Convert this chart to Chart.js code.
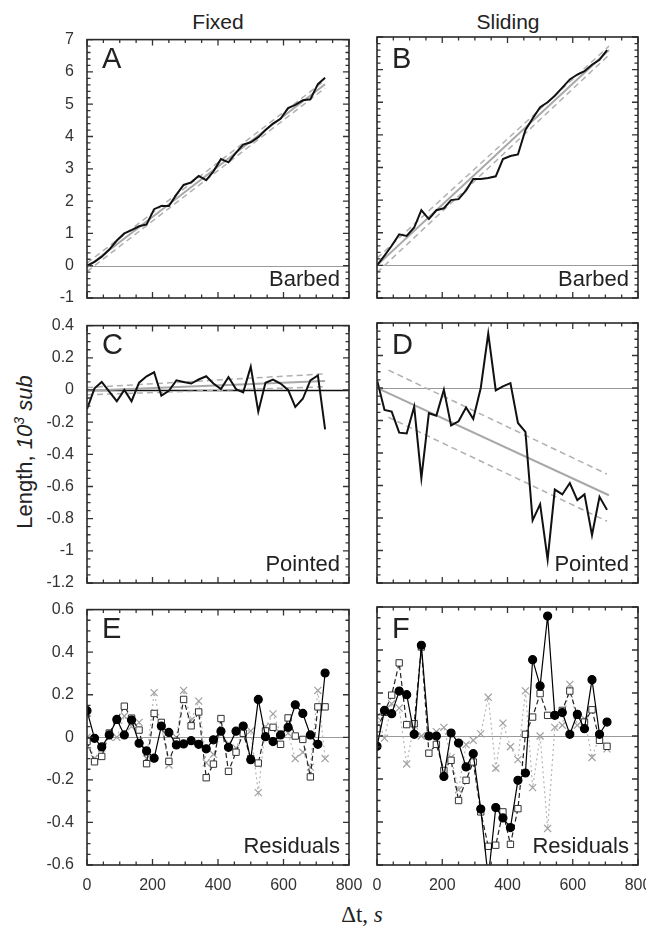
<!DOCTYPE html>
<html>
<head>
<meta charset="utf-8">
<script src="https://cdn.jsdelivr.net/npm/chart.js@4.4.0/dist/chart.umd.min.js"></script>
<style>
  body { margin: 0; background: #fff; font-family: Arial, "Liberation Sans", sans-serif; color: #222; }
  #page { position: relative; width: 646px; height: 927px; overflow: hidden; }
  canvas { position: absolute; }
  .t { position: absolute; line-height: 1; white-space: nowrap; }
  .c { transform: translate(-50%, -50%); }
  .letter { font-size: 29px; }
  .corner { font-size: 22px; text-align: right; }
</style>
</head>
<body>
<div id="page">
  <div class="t c" style="left:218px;top:21px;font-size:21px">Fixed</div>
  <div class="t c" style="left:508px;top:21px;font-size:21px">Sliding</div>
  <div class="t c" style="left:24px;top:452px;font-size:22px;transform:translate(-50%,-50%) rotate(-90deg)">Length, <i>10<sup style="font-size:14px">3</sup> sub</i></div>
  <div class="t c" style="left:362px;top:914px;font-size:23px;font-family:'Liberation Serif','DejaVu Serif',serif">Δt, <i>s</i></div>
</div>
<script>
// time points (s)
const tFixed = [0, 23, 45, 68, 91, 114, 136, 159, 182, 205, 227, 250, 273, 295, 318, 341, 364,
                386, 409, 432, 455, 477, 500, 523, 545, 568, 591, 614, 636, 659, 682, 705, 727];
const tSliding = [0, 23, 45, 68, 91, 114, 136, 159, 182, 205, 227, 250, 273, 295, 318, 341,
                  364, 386, 409, 432, 455, 477, 500, 523, 545, 568, 591, 614, 636, 659, 682, 705];

// A / B: barbed end length
const barbedFixed = [0, 0.12, 0.28, 0.5, 0.78, 1.0, 1.1, 1.22, 1.28, 1.75, 1.85, 1.85, 2.2, 2.5, 2.58, 2.78, 2.65,
                     2.92, 3.3, 3.2, 3.5, 3.75, 3.82, 3.98, 4.2, 4.4, 4.55, 4.88, 4.98, 5.12, 5.15, 5.62, 5.82];
const barbedSliding = [0, 0.3, 0.6, 0.95, 0.9, 1.16, 1.69, 1.42, 1.69, 1.75, 2.0, 2.03, 2.3, 2.65, 2.65, 2.68,
                       2.73, 3.26, 3.35, 3.4, 4.15, 4.5, 4.85, 5.0, 5.2, 5.45, 5.7, 5.85, 5.95, 6.15, 6.3, 6.6];

// C / D: pointed end length
const pointedFixed = [-0.12, 0.01, 0.05, -0.01, -0.07, 0.0, -0.07, 0.045, 0.085, 0.11, -0.035, -0.005, 0.06, 0.05,
                      0.04, 0.065, 0.085, 0.04, 0.005, 0.08, 0.005, -0.015, 0.145, -0.135, 0.045, 0.065, 0.04,
                      0.0, -0.105, -0.055, 0.06, 0.09, -0.245];
const pointedSliding = [0.05, -0.135, -0.145, -0.275, -0.28, -0.115, -0.555, -0.155, -0.17, -0.01, -0.23, -0.205,
                        -0.12, -0.19, 0.0, 0.335, -0.015, 0.01, 0.03, -0.215, -0.27, -0.815, -0.715, -1.055,
                        -0.625, -0.655, -0.585, -0.69, -0.655, -0.905, -0.67, -0.75];

// fits (start/end values) and their bands
const fitTFixed = [0, 727];
const fitTSliding = [0, 711];
const fitA = [-0.05, 5.62], fitAUp = [0.08, 5.74], fitALo = [-0.18, 5.5];
const fitB = [0.0, 6.6], fitBUp = [0.22, 6.72], fitBLo = [-0.22, 6.45];
const fitC = [-0.005, 0.055], fitCUp = [0.015, 0.1], fitCLo = [-0.03, 0.02];
const fitD = [0.0, -0.66];
const bandTD = [35, 705], fitDUp = [0.11, -0.53], fitDLo = [-0.18, -0.82];

// E / F: residuals
const resFixedDots = [0.125, -0.005, -0.045, 0.011, 0.084, 0.011, 0.081, -0.028, -0.064, -0.098, 0.053, 0.023,
                      -0.036, -0.031, -0.016, -0.033, -0.054, -0.012, 0.029, -0.047, 0.029, 0.053, -0.105, 0.178,
                      0.003, -0.02, 0.011, 0.047, 0.153, 0.112, 0.011, -0.033, 0.302];
const resFixedSquares = [-0.02, -0.115, -0.09, 0.02, 0.08, 0.146, 0.09, 0.034, -0.124, 0.112, 0.07, -0.113, -0.02,
                         0.178, 0.054, 0.119, -0.19, -0.126, 0.088, -0.16, -0.07, 0.019, -0.1, -0.121, 0.03,
                         0.047, -0.033, 0.091, 0.006, -0.01, -0.186, 0.143, 0.143];
const resFixedCrosses = [0.0, -0.1, -0.05, 0.0, 0.0, 0.1, 0.05, 0.07, -0.1, 0.21, 0.05, -0.13, 0.0, 0.22, 0.08,
                         0.17, -0.12, -0.08, 0.02, -0.03, -0.05, 0.03, 0.03, -0.26, 0.05, 0.11, 0.02, 0.02, -0.1,
                         -0.07, -0.14, 0.22, -0.1];
const resSlidingDots = [-0.048, 0.119, 0.104, 0.209, 0.192, 0.008, 0.422, 0.0, 0.0, -0.188, 0.014, -0.033, -0.144,
                        -0.082, -0.34, -0.66, -0.333, -0.381, -0.426, -0.206, -0.172, 0.355, 0.233, 0.558, 0.096,
                        0.109, 0.008, 0.101, 0.034, 0.262, 0.008, 0.065];
const resSlidingSquares = [0.034, 0.11, 0.19, 0.34, 0.053, 0.057, 0.414, -0.08, -0.039, -0.16, -0.113, -0.3, -0.206,
                           -0.121, -0.353, -0.513, -0.508, -0.353, -0.504, -0.338, 0.008, 0.088, 0.197, 0.096,
                           0.096, 0.119, 0.209, 0.096, 0.065, 0.122, -0.02, -0.048];
const resSlidingCrosses = [0.09, -0.01, 0.15, 0.13, -0.13, 0.06, 0.0, 0.0, 0.02, 0.04, -0.1, -0.25, -0.04, -0.02,
                           0.01, 0.18, -0.15, 0.06, -0.05, -0.11, 0.21, -0.24, 0.0, -0.43, 0.04, 0.05, 0.24, 0.05,
                           0.08, -0.1, 0.0, -0.06];

// tick labels
const xTicks = [0, 200, 400, 600, 800];
const yTicksBarbed = [-1, 0, 1, 2, 3, 4, 5, 6, 7];
const yTicksPointed = [-1.2, -1, -0.8, -0.6, -0.4, -0.2, 0, 0.2, 0.4];
const yTicksResid = [-0.6, -0.4, -0.2, 0, 0.2, 0.4, 0.6];

const pts = (ts, vs) => ts.map((t, i) => ({ x: t, y: vs[i] }));

function mainLine(ts, vs) {
    return { data: pts(ts, vs), borderColor: '#111', borderWidth: 2, pointRadius: 0 };
}
function fitLine(ts, vs) {
    return { data: pts(ts, vs), borderColor: '#a8a8a8', borderWidth: 2, pointRadius: 0 };
}
function bandLine(ts, vs) {
    return { data: pts(ts, vs), borderColor: '#b0b0b0', borderWidth: 1.5, borderDash: [6, 4], pointRadius: 0 };
}
function residSets(ts, dots, squares, crosses) {
    return [
        { data: pts(ts, dots), borderColor: '#000', borderWidth: 1.2, pointStyle: 'circle', pointRadius: 4,
          pointBackgroundColor: '#000', pointBorderColor: '#000' },
        { data: pts(ts, squares), borderColor: '#222', borderWidth: 1.2, borderDash: [5, 3], pointStyle: 'rect',
          pointRadius: 4.5, pointBackgroundColor: '#fff', pointBorderColor: '#333', pointBorderWidth: 1 },
        { data: pts(ts, crosses), borderColor: '#b5b5b5', borderWidth: 1.2, borderDash: [2, 3], pointStyle: 'crossRot',
          pointRadius: 5, pointBorderColor: '#a0a0a0', pointBorderWidth: 1.2 }
    ];
}

// frame, inward ticks on all four sides, zero line
const frameTicks = {
    id: 'frameTicks',
    beforeDatasetsDraw(chart, args, o) {
        const { ctx, chartArea: a, scales: { y } } = chart;
        const py = Math.round(y.getPixelForValue(0)) + 0.5;
        ctx.save();
        ctx.strokeStyle = o.zeroColor;
        ctx.lineWidth = o.zeroWidth;
        ctx.beginPath();
        ctx.moveTo(a.left, py);
        ctx.lineTo(a.right, py);
        ctx.stroke();
        ctx.restore();
    },
    afterDatasetsDraw(chart, args, o) {
        const { ctx, chartArea: a, scales: { x, y } } = chart;
        ctx.save();
        ctx.strokeStyle = '#333';
        ctx.lineWidth = 1.3;
        const marks = (scale, minor, major) => {
            const out = [];
            const n = Math.round((scale.max - scale.min) / minor);
            for (let i = 0; i <= n; i++) {
                const v = scale.min + i * minor;
                const isMajor = Math.abs(v / major - Math.round(v / major)) < 1e-6;
                out.push([scale.getPixelForValue(v), isMajor ? 6 : 3.5]);
            }
            return out;
        };
        ctx.beginPath();
        marks(x, o.xMinor, o.xMajor).forEach(([p, len]) => {
            ctx.moveTo(p, a.bottom); ctx.lineTo(p, a.bottom - len);
            ctx.moveTo(p, a.top); ctx.lineTo(p, a.top + len);
        });
        marks(y, o.yMinor, o.yMajor).forEach(([p, len]) => {
            ctx.moveTo(a.left, p); ctx.lineTo(a.left + len, p);
            ctx.moveTo(a.right, p); ctx.lineTo(a.right - len, p);
        });
        ctx.stroke();
        ctx.lineWidth = 1.6;
        ctx.strokeStyle = '#2a2a2a';
        ctx.strokeRect(a.left, a.top, a.right - a.left, a.bottom - a.top);
        ctx.restore();
    }
};

const page = document.getElementById('page');
const PAD_L = 50, PAD_T = 12, PAD_R = 22, PAD_B = 30;

function addText(cls, text, css) {
    const d = document.createElement('div');
    d.className = 't ' + cls;
    d.textContent = text;
    Object.assign(d.style, css);
    page.appendChild(d);
}

function panel(p) {
    const cv = document.createElement('canvas');
    cv.width = p.W + PAD_L + PAD_R;
    cv.height = p.H + PAD_T + PAD_B;
    cv.style.left = (p.L - PAD_L) + 'px';
    cv.style.top = (p.T - PAD_T) + 'px';
    page.appendChild(cv);

    addText('letter', p.letter, { left: (p.L + 15) + 'px', top: (p.T + 7) + 'px' });
    addText('corner', p.corner, { right: (646 - (p.R - 9)) + 'px', top: (p.T + p.H - 30) + 'px' });

    const tickFont = { family: 'Arial, "Liberation Sans", sans-serif', size: 16 };
    new Chart(cv, {
        type: 'line',
        data: { datasets: p.datasets },
        options: {
            responsive: false,
            animation: false,
            devicePixelRatio: 1,
            events: [],
            layout: { padding: { left: 0, top: PAD_T, right: PAD_R, bottom: 0 } },
            elements: { line: { tension: 0 } },
            plugins: {
                legend: { display: false },
                tooltip: { enabled: false },
                frameTicks: { xMinor: 50, xMajor: 200, yMinor: p.yMinor, yMajor: p.yMajor,
                              zeroColor: p.zeroColor || '#9a9a9a', zeroWidth: p.zeroWidth || 1 }
            },
            scales: {
                x: {
                    type: 'linear', min: 0, max: 800,
                    afterBuildTicks: s => { s.ticks = xTicks.map(v => ({ value: v })); },
                    afterFit: s => { s.height = PAD_B; },
                    grid: { display: false }, border: { display: false },
                    ticks: { display: p.showX, color: '#333', font: tickFont, padding: 3,
                             maxRotation: 0, autoSkip: false }
                },
                y: {
                    type: 'linear', min: p.yTicks[0], max: p.yTicks[p.yTicks.length - 1],
                    afterBuildTicks: s => { s.ticks = p.yTicks.map(v => ({ value: v })); },
                    afterFit: s => { s.width = PAD_L; },
                    grid: { display: false }, border: { display: false },
                    ticks: { display: p.showY, color: '#333', font: tickFont, padding: 5, autoSkip: false,
                             callback: v => String(Math.round(v * 10) / 10) }
                }
            }
        },
        plugins: [frameTicks]
    });
}

const colL = 87, colR = 377, W = 262;
panel({ letter: 'A', corner: 'Barbed', L: colL, T: 37, W: W, H: 261, R: colL + W,
        yTicks: yTicksBarbed, yMinor: 0.2, yMajor: 1, showY: true, showX: false,
        datasets: [mainLine(tFixed, barbedFixed), fitLine(fitTFixed, fitA),
                   bandLine(fitTFixed, fitAUp), bandLine(fitTFixed, fitALo)] });
panel({ letter: 'B', corner: 'Barbed', L: colR, T: 37, W: W - 1, H: 261, R: colR + W - 1,
        yTicks: yTicksBarbed, yMinor: 0.2, yMajor: 1, showY: false, showX: false,
        datasets: [mainLine(tSliding, barbedSliding), fitLine(fitTSliding, fitB),
                   bandLine(fitTSliding, fitBUp), bandLine(fitTSliding, fitBLo)] });
panel({ letter: 'C', corner: 'Pointed', L: colL, T: 323, W: W, H: 260, R: colL + W,
        yTicks: yTicksPointed, yMinor: 0.05, yMajor: 0.2, showY: true, showX: false,
        zeroColor: '#111', zeroWidth: 1.5,
        datasets: [mainLine(tFixed, pointedFixed), fitLine(fitTFixed, fitC),
                   bandLine(fitTFixed, fitCUp), bandLine(fitTFixed, fitCLo)] });
panel({ letter: 'D', corner: 'Pointed', L: colR, T: 323, W: W - 1, H: 260, R: colR + W - 1,
        yTicks: yTicksPointed, yMinor: 0.05, yMajor: 0.2, showY: false, showX: false,
        datasets: [mainLine(tSliding, pointedSliding), fitLine(fitTSliding, fitD),
                   bandLine(bandTD, fitDUp), bandLine(bandTD, fitDLo)] });
panel({ letter: 'E', corner: 'Residuals', L: colL, T: 607, W: W, H: 258, R: colL + W,
        yTicks: yTicksResid, yMinor: 0.05, yMajor: 0.2, showY: true, showX: true,
        datasets: residSets(tFixed, resFixedDots, resFixedSquares, resFixedCrosses) });
panel({ letter: 'F', corner: 'Residuals', L: colR, T: 607, W: W - 1, H: 258, R: colR + W - 1,
        yTicks: yTicksResid, yMinor: 0.05, yMajor: 0.2, showY: false, showX: true,
        datasets: residSets(tSliding, resSlidingDots, resSlidingSquares, resSlidingCrosses) });
</script>
</body>
</html>
